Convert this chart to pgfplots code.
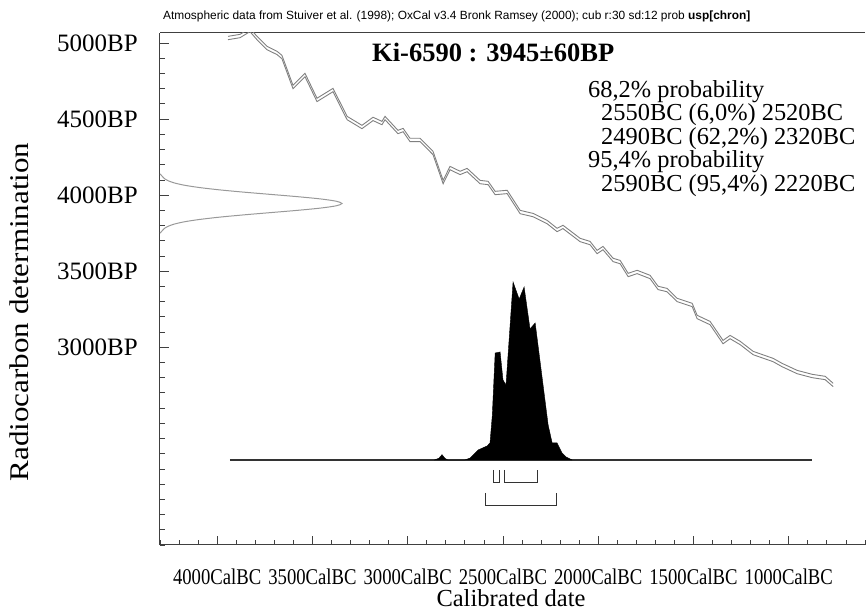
\documentclass[border=0pt]{standalone}
\usepackage{fontspec}
\setmainfont{Liberation Serif}
\newfontfamily\headfont{Liberation Sans}
\usepackage{graphicx}
\usepackage{pgfplots}
\pgfplotsset{compat=1.18}
\newcommand\xl[1]{\scalebox{0.83}[1]{#1}}
\definecolor{frame}{gray}{0.25}
\definecolor{curve}{gray}{0.5}

% calibration curve (BC, lower, upper) in BP
\pgfplotstableread{
bc   lo    hi
3943 5022 5044
3880 5035 5057
3828 5075 5097
3791 5022 5044
3738 4956 4978
3686 4924 4946
3660 4897 4919
3602 4700 4722
3539 4779 4801
3476 4615 4637
3392 4680 4702
3318 4496 4518
3240 4437 4459
3182 4490 4512
3135 4463 4485
3119 4496 4518
3051 4404 4426
3024 4417 4439
2988 4352 4374
2935 4352 4374
2867 4266 4288
2814 4075 4097
2778 4167 4189
2725 4135 4157
2688 4154 4176
2620 4075 4097
2578 4069 4091
2541 4003 4025
2478 4010 4032
2410 3878 3900
2342 3858 3880
2268 3812 3834
2216 3760 3782
2185 3780 3802
2095 3694 3716
2043 3674 3696
2006 3615 3637
1975 3641 3663
1922 3563 3585
1885 3549 3571
1843 3464 3486
1796 3484 3506
1728 3451 3473
1686 3379 3401
1639 3365 3387
1586 3300 3322
1507 3267 3289
1481 3188 3210
1413 3148 3170
1345 3023 3045
1308 3056 3078
1255 3017 3039
1187 2951 2973
1082 2905 2927
1035 2872 2894
956  2826 2848
877  2800 2822
809  2787 2809
767  2741 2763
}\curvetab

\begin{document}
\begin{tikzpicture}[x=1pt,y=1pt]
\path[use as bounding box] (0,0) rectangle (867,612);
\begin{axis}[
  at={(160pt,67pt)}, anchor=south west,
  scale only axis, width=705pt, height=512pt,
  xmin=600, xmax=4300, x dir=reverse,
  ymin=1700, ymax=5066,
  axis x line=box, axis y line=left, y axis line style={-},
  axis line style={frame, line width=1pt},
  xtick={1000,1500,2000,2500,3000,3500,4000},
  xticklabels={\xl{1000CalBC},\xl{1500CalBC},\xl{2000CalBC},\xl{2500CalBC},\xl{3000CalBC},\xl{3500CalBC},\xl{4000CalBC}},
  ytick={3000,3500,4000,4500,5000},
  yticklabels={3000BP,3500BP,4000BP,4500BP,5000BP},
  minor xtick={600,700,...,4300},
  minor ytick={1700,1800,...,5000},
  tick align=inside, xtick pos=bottom, ytick pos=left,
  major tick length=9pt, minor tick length=5pt,
  tick style={frame, line width=0.8pt},
  yticklabel style={font=\fontsize{25}{30}\selectfont, anchor=east, inner sep=0pt, xshift=-22pt},
  xticklabel style={font=\fontsize{22.5}{27}\selectfont, anchor=base, inner sep=0pt, yshift=-40pt},
]
% calibration curve band
\addplot[curve, line width=0.9pt] table[x=bc, y=lo] {\curvetab};
\addplot[curve, line width=0.9pt] table[x=bc, y=hi] {\curvetab};
% radiocarbon measurement distribution on y axis
\addplot[black!40, line width=1pt, smooth] coordinates {
(4300,4140) (4289,4125) (4278,4110) (4258,4095) (4224,4080) (4171,4065) (4093,4050)
(3990,4035) (3863,4020) (3721,4005) (3579,3990) (3457,3975) (3375,3960) (3345,3945)
(3375,3930) (3457,3915) (3579,3900) (3721,3885) (3863,3870) (3990,3855) (4093,3840)
(4171,3825) (4224,3810) (4258,3795) (4278,3780) (4289,3765) (4300,3750)};
\end{axis}
\begin{axis}[
  at={(160pt,67pt)}, anchor=south west,
  scale only axis, width=705pt, height=512pt,
  xmin=600, xmax=4300, x dir=reverse,
  ymin=-0.4775, ymax=2.399, hide axis,
]
% baseline
\addplot[black!80, line width=1.2pt] coordinates {(3933,0) (877,0)};
% posterior distribution
\addplot[fill=black, draw=black, line width=0.4pt] coordinates {
(2860,0) (2836,0.01) (2820,0.03) (2805,0.01) (2790,0) (2700,0) (2673,0.011)
(2631,0.056) (2583,0.079) (2568,0.096) (2556,0.25) (2541,0.601) (2515,0.607)
(2500,0.45) (2484,0.421) (2447,1.0) (2415,0.904) (2389,0.972) (2358,0.736)
(2331,0.770) (2263,0.197) (2242,0.096) (2216,0.096) (2190,0.04) (2169,0.017) (2137,0)};
% 68.2% ranges
\addplot[black!80, line width=0.9pt] coordinates {(2550,-0.056) (2550,-0.124) (2520,-0.124) (2520,-0.056)};
\addplot[black!80, line width=0.9pt] coordinates {(2490,-0.056) (2490,-0.124) (2320,-0.124) (2320,-0.056)};
% 95.4% range
\addplot[black!80, line width=0.9pt] coordinates {(2590,-0.185) (2590,-0.253) (2220,-0.253) (2220,-0.185)};
\end{axis}
% texts
\node[anchor=base west, inner sep=0pt] at (163,592) {\headfont\fontsize{11.9}{14}\selectfont Atmospheric data from Stuiver et al. (1998); OxCal v3.4 Bronk Ramsey (2000); cub r:30 sd:12 prob \textbf{usp[chron]}};
\node[anchor=base west, inner sep=0pt] at (372,550) {\fontsize{26.5}{32}\selectfont\bfseries Ki-6590 : 3945±60BP};
\begin{scope}[every node/.style={anchor=base west, inner sep=0pt, font=\fontsize{24.4}{29}\selectfont}]
\node at (588,514) {68,2\% probability};
\node at (601,491) {2550BC (6,0\%) 2520BC};
\node at (601,467) {2490BC (62,2\%) 2320BC};
\node at (588,444) {95,4\% probability};
\node at (601,420) {2590BC (95,4\%) 2220BC};
\end{scope}
\node[rotate=90, inner sep=0pt, font=\fontsize{27}{32}\selectfont] at (19,300) {\scalebox{1.15}[1]{Radiocarbon determination}};
\node[anchor=base, inner sep=0pt, font=\fontsize{24.5}{29}\selectfont] at (511,5) {Calibrated date};
\end{tikzpicture}
\end{document}
